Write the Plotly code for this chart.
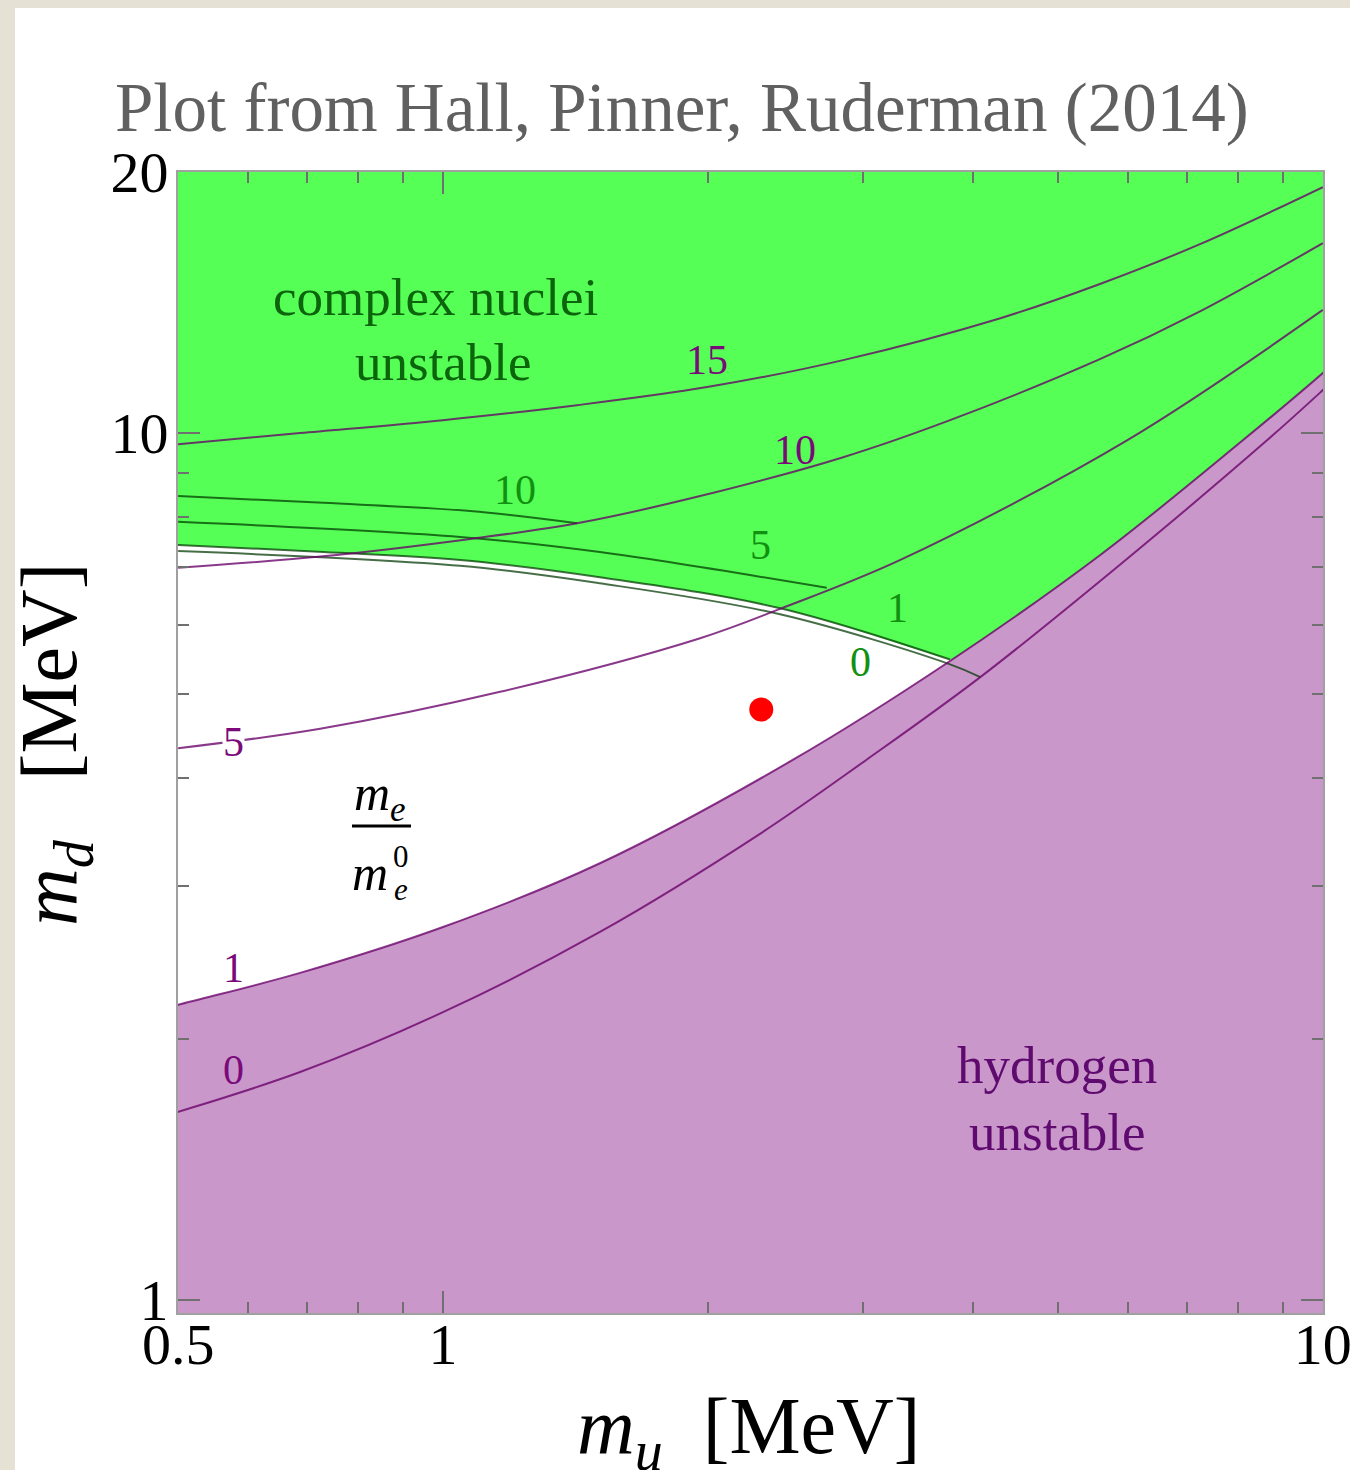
import plotly.graph_objects as go
import math

# ---------------- data (m_u, m_d in MeV) ----------------
X_MIN, X_MAX = 0.5, 10.0
Y_MIN, Y_MAX = 0.966, 20.0

x_tickvals = [0.5, 1, 10]
x_ticktext = ["0.5", "1", "10"]
y_tickvals = [1, 10, 20]
y_ticktext = ["1", "10", "20"]
x_minor = [0.6, 0.7, 0.8, 0.9, 2, 3, 4, 5, 6, 7, 8, 9]
y_minor = [2, 3, 4, 5, 6, 7, 8, 9]

# hydrogen-stability contours (m_e/m_e^0 = 1 boundary, and 0)
h1_x = [0.453, 0.5, 0.688, 1.0, 1.508, 2.50, 3.74, 5.58, 8.11, 10.0, 11.0]
h1_y = [2.13, 2.19, 2.384, 2.693, 3.19, 4.20, 5.43, 7.23, 9.81, 11.73, 12.8]
h0_x = [0.453, 0.5, 0.688, 1.0, 1.508, 2.29, 3.03, 4.08, 5.88, 8.64, 10.0, 11.0]
h0_y = [1.60, 1.648, 1.832, 2.148, 2.658, 3.447, 4.20, 5.23, 7.05, 9.81, 11.21, 12.27]

# purple contours inside allowed / nuclei region
p5_x = [0.5, 0.725, 1.161, 1.96, 2.416, 3.31, 5.99, 10.0]
p5_y = [4.33, 4.56, 5.03, 5.80, 6.27, 7.14, 9.81, 13.87]
p10_x = [0.5, 0.731, 1.074, 1.42, 1.96, 2.85, 3.77, 5.58, 7.25, 10.0]
p10_y = [6.995, 7.21, 7.55, 7.87, 8.46, 9.38, 10.35, 12.17, 13.82, 16.56]
p15_x = [0.5, 0.688, 1.0, 1.42, 1.996, 2.85, 4.30, 5.58, 7.25, 10.0]
p15_y = [9.71, 10.0, 10.35, 10.77, 11.30, 12.14, 13.57, 14.86, 16.52, 19.22]

# green contours (complex nuclei stability)
g1_x = [0.453, 0.5, 0.731, 1.046, 1.508, 2.416, 3.77]
g1_y = [7.45, 7.43, 7.29, 7.14, 6.82, 6.28, 5.48]
g1_ext_x = [4.30, 13.0]
g1_ext_y = [5.29, 3.5]
g0_x = [0.5, 1.046, 1.508, 2.416, 3.77, 4.08]
g0_y = [7.31, 7.03, 6.71, 6.18, 5.41, 5.23]
g5_x = [0.5, 1.046, 1.508, 2.73]
g5_y = [7.90, 7.59, 7.29, 6.63]
g10_x = [0.5, 0.731, 1.074, 1.42]
g10_y = [8.46, 8.31, 8.13, 7.87]

# observed quark masses
dot_x = [2.3]
dot_y = [4.8]

GREEN = "#55ff55"
PINK = "#ca97ca"
PURPLE_LINE = "rgba(105,0,105,0.78)"
GREEN_LINE = "rgba(0,55,0,0.72)"
FONT = "Liberation Serif"

fig = go.Figure()

# green region (complex nuclei unstable)
fig.add_trace(go.Scatter(
    x=g1_x + g1_ext_x + [13.0, 0.453],
    y=g1_y + g1_ext_y + [25.0, 25.0],
    fill="toself", fillcolor=GREEN, mode="lines",
    line=dict(width=0, shape="spline"), hoverinfo="skip", showlegend=False))

# pink region (hydrogen unstable)
fig.add_trace(go.Scatter(
    x=h1_x + [11.0, 0.453], y=h1_y + [0.5, 0.5],
    fill="toself", fillcolor=PINK, mode="lines",
    line=dict(width=0, shape="spline"), hoverinfo="skip", showlegend=False))

def line(xs, ys, color, w=2.0):
    fig.add_trace(go.Scatter(x=xs, y=ys, mode="lines",
                             line=dict(color=color, width=w, shape="spline"),
                             hoverinfo="skip", showlegend=False))

line(g10_x, g10_y, GREEN_LINE)
line(g5_x, g5_y, GREEN_LINE)
line(g1_x, g1_y, GREEN_LINE)
line(g0_x, g0_y, GREEN_LINE)
line(p15_x, p15_y, PURPLE_LINE)
line(p10_x, p10_y, PURPLE_LINE)
line(p5_x, p5_y, PURPLE_LINE)
line(h1_x, h1_y, PURPLE_LINE)
line(h0_x, h0_y, PURPLE_LINE)

fig.add_trace(go.Scatter(x=dot_x, y=dot_y, mode="markers",
                         marker=dict(color="#ff0000", size=24),
                         hoverinfo="skip", showlegend=False))

L, R, T, B = 178, 27, 172, 157
W, H = 1350, 1470
PW, PH = W - L - R, H - T - B

def px(xp):
    return (xp - L) / PW

def py(yp):
    return (T + PH - yp) / PH

ann = []

def text(s, xp, yp, size, color, **kw):
    d = dict(text=s, x=px(xp), y=py(yp), xref="paper", yref="paper",
             showarrow=False, font=dict(family=FONT, size=size, color=color),
             xanchor="center", yanchor="middle")
    d.update(kw)
    ann.append(d)

# title
text("Plot from Hall, Pinner, Ruderman (2014)", 113, 108, 69, "#606060",
     xanchor="left")
# region labels
text("complex nuclei", 435, 297, 53, "#0c640c")
text("unstable", 443, 362, 53, "#0c640c")
text("hydrogen", 1057, 1065, 53, "#5e0a6e")
text("unstable", 1057, 1132, 53, "#5e0a6e")
# contour labels
PL = "#7a0a7a"
GL = "#119011"
text("15", 707, 360, 42, PL)
text("10", 795, 450, 42, PL)
text("5", 233, 742, 42, PL, bgcolor="white", borderpad=0)
text("1", 233, 968, 42, PL)
text("0", 233, 1070, 42, PL)
text("10", 515, 490, 42, GL)
text("5", 760, 545, 42, GL)
text("1", 897, 608, 42, GL)
text("0", 860, 662, 42, GL)
# m_e / m_e^0
text("<i>m<sub>e</sub></i>", 380, 797, 50, "black")
text("<i>m</i>", 370, 873, 50, "black")
text("0", 401, 856, 31, "black")
text("<i>e</i>", 401, 889, 31, "black")
# axis titles
text("<i>m<sub>u</sub></i>\u00a0\u00a0[MeV]", 748, 1432, 80, "black")
text("<i>m<sub>d</sub></i>\u00a0\u00a0\u00a0[MeV]", 55, 745, 80, "black", textangle=-90)

shapes = [
    dict(type="line", xref="paper", yref="paper", x0=px(352), x1=px(411),
         y0=py(826), y1=py(826), line=dict(color="black", width=3)),
    # beige frame strips
    dict(type="rect", xref="paper", yref="paper", x0=px(0), x1=px(15),
         y0=py(H), y1=py(0), fillcolor="#e6e1d5", line=dict(width=0), layer="below"),
    dict(type="rect", xref="paper", yref="paper", x0=px(0), x1=px(W),
         y0=py(8), y1=py(0), fillcolor="#e6e1d5", line=dict(width=0), layer="below"),
]

axis_common = dict(
    type="log", showgrid=False, zeroline=False, showline=True, mirror="ticks",
    linecolor="#a0a0a0", linewidth=2, ticks="inside", ticklen=22,
    tickwidth=1.5, tickcolor="#707070",
    tickfont=dict(family=FONT, size=58, color="black"),
    ticklabeloverflow="allow",
    automargin=False,
)

fig.update_layout(
    width=W, height=H,
    margin=dict(l=L, r=R, t=T, b=B),
    paper_bgcolor="white", plot_bgcolor="white",
    xaxis=dict(range=[math.log10(X_MIN * 0.9996), math.log10(X_MAX * 1.0004)],
               tickmode="array", tickvals=x_tickvals, ticktext=x_ticktext,
               ticklabelstandoff=-21,
               minor=dict(tickmode="array", tickvals=x_minor, ticks="inside",
                          ticklen=11, tickwidth=1.5, tickcolor="#707070"),
               **axis_common),
    yaxis=dict(range=[math.log10(Y_MIN), math.log10(Y_MAX * 1.0004)],
               tickmode="array", tickvals=y_tickvals, ticktext=y_ticktext,
               ticklabelstandoff=-4,
               minor=dict(tickmode="array", tickvals=y_minor, ticks="inside",
                          ticklen=11, tickwidth=1.5, tickcolor="#707070"),
               **axis_common),
    annotations=ann,
    shapes=shapes,
    showlegend=False,
)

fig.write_html("out.html", config={"displayModeBar": False},
               post_script="document.body.style.margin='0px';")
